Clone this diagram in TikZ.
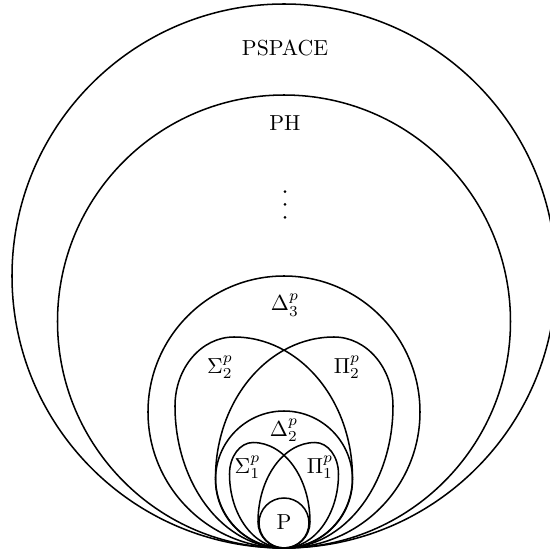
\documentclass[tikz,border=0pt]{standalone}
\begin{document}
\begin{tikzpicture}[x=0.46pt,y=0.46pt,
  classline/.style={draw=black, line width=0.7pt},
  dotmark/.style={fill=black, draw=none},
  lab/.style={inner sep=0pt, font=\normalsize}]
\useasboundingbox (0,0) rectangle (550,551);
\begin{scope}[shift={(284,3)}]
  \coordinate (B) at (0,0);
  % circles
  \draw[classline] (0,272) circle (272);
  \draw[classline] (0,226.5) circle (226.5);
  \draw[classline] (0,136) circle (136);
  \draw[classline] (0,68.5) circle (68.5);
  \draw[classline] (0,25) circle (25);
  % Sigma and Pi shapes (mirrored)
  \foreach \s in {1,-1}{
    \begin{scope}[xscale=\s]
      \draw[classline] (B) .. controls (-60.2,0) and (-109,63.6) .. (-109,142)
        .. controls (-109,180.1) and (-82.6,211) .. (-50,211)
        .. controls (15.4,211) and (68.5,147.9) .. (68.5,70)
        .. controls (68.5,31.3) and (37.8,0) .. (B);
      \draw[classline] (B) .. controls (-30.1,0) and (-54.5,33.1) .. (-54.5,74)
        .. controls (-54.5,91.4) and (-44.0,105.5) .. (-31,105.5)
        .. controls (0.5,105.5) and (26,69.9) .. (26,26)
        .. controls (26,11.6) and (14.4,0) .. (B);
    \end{scope}
  }
\end{scope}
% vertical ellipsis
\foreach \yy in {359.3,346.7,333.7}{
  \fill[dotmark] (285,\yy) circle (1.5);
}
\node[lab] (pspace) at (285,503) {PSPACE};
\node[lab] (ph) at (285,428) {PH};
\node[lab] (d3) at (285,246) {$\Delta_3^p$};
\node[lab] (s2) at (220,183.5) {$\Sigma_2^p$};
\node[lab] (p2) at (347,183.5) {$\Pi_2^p$};
\node[lab] (d2) at (284,120.5) {$\Delta_2^p$};
\node[lab] (s1) at (247.5,83.5) {$\Sigma_1^p$};
\node[lab] (p1) at (320,83.5) {$\Pi_1^p$};
\node[lab] (p) at (284,29.3) {P};
\end{tikzpicture}
\end{document}
